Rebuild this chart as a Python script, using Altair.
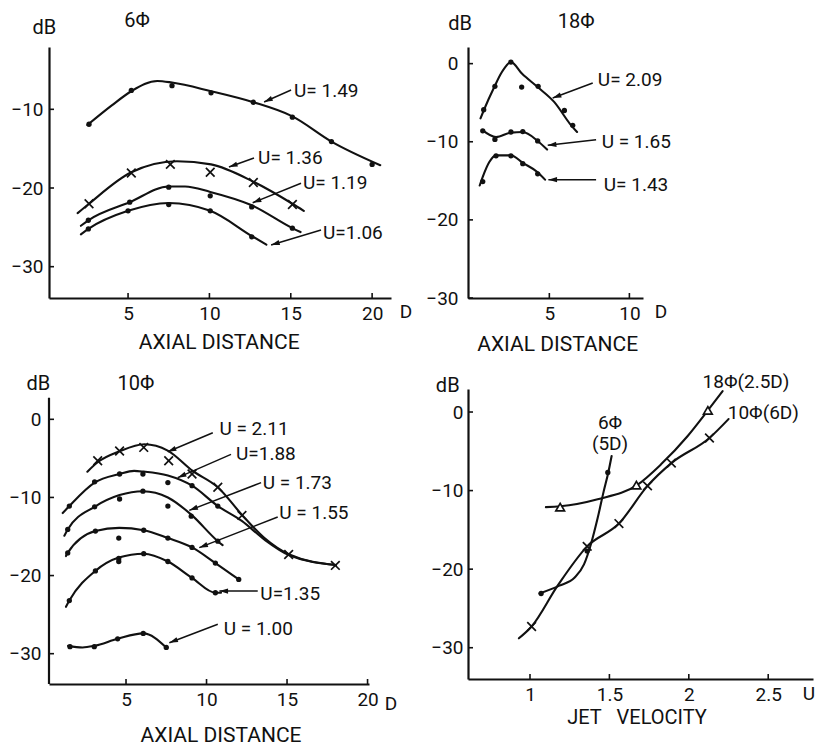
import math
import altair as alt
import pandas as pd

FONT = "Roboto"
INK = "#111111"

# ---------------- Panel A : 6Φ (dB vs axial distance) ----------------
a149_line_x = [2.5, 4.0, 5.2, 6.8, 7.7, 10.1, 12.7, 15.1, 17.5, 20.5]
a149_line_y = [-12.0, -9.5, -7.7, -6.4, -6.6, -7.7, -9.1, -10.9, -14.1, -17.1]
a149_pt_x = [2.6, 5.2, 7.7, 10.1, 12.7, 15.1, 17.5, 20.0]
a149_pt_y = [-11.9, -7.6, -7.0, -7.9, -9.1, -11.0, -14.1, -17.0]

a136_line_x = [1.9, 2.6, 5.2, 8.0, 10.1, 12.7, 15.1, 15.8]
a136_line_y = [-23.2, -22.0, -18.0, -16.6, -17.0, -19.2, -22.0, -22.9]
a136_pt_x = [2.6, 5.2, 7.6, 10.05, 12.7, 15.1]
a136_pt_y = [-22.0, -18.1, -17.0, -18.0, -19.3, -22.1]

a119_line_x = [2.1, 2.56, 5.1, 7.5, 8.5, 10.05, 12.6, 15.1, 15.6]
a119_line_y = [-24.8, -24.1, -21.8, -19.8, -19.8, -20.5, -22.2, -25.1, -25.6]
a119_pt_x = [2.56, 5.1, 7.5, 10.05, 12.6, 15.1]
a119_pt_y = [-24.1, -21.8, -19.9, -21.0, -22.4, -25.1]

a106_line_x = [2.1, 2.56, 5.0, 7.5, 10.05, 12.6, 13.5]
a106_line_y = [-25.9, -25.2, -22.9, -21.9, -22.9, -26.1, -27.2]
a106_pt_x = [2.56, 5.0, 7.5, 10.05, 12.6]
a106_pt_y = [-25.2, -22.9, -22.1, -22.9, -26.2]

a_label_text = ["U= 1.49", "U= 1.36", "U= 1.19", "U=1.06"]
a_label_x = [15.2, 12.99, 15.75, 16.98]
a_label_y = [-7.67, -16.19, -19.36, -25.72]
a_arrow_x1 = [15.02, 12.74, 15.63, 16.86]
a_arrow_y1 = [-7.55, -16.19, -19.4, -25.34]
a_arrow_x2 = [13.36, 11.2, 12.66, 13.79]
a_arrow_y2 = [-9.07, -17.33, -21.87, -27.25]
a_note_text = ["dB", "6Φ", "D", "AXIAL DISTANCE"]
a_note_x = [-0.15, 5.55, 22.08, 10.6]
a_note_y = [0.37, 1.2, -35.74, -39.7]
a_note_fs = [20, 20, 19, 21]
a_xticks = [5, 10, 15, 20]
a_yticks = [-10, -20, -30]

# ---------------- Panel B : 18Φ ----------------
b209_line_x = [0.7, 0.9, 1.56, 2.0, 2.6, 3.3, 4.27, 5.3, 6.36, 6.73]
b209_line_y = [-7.0, -6.0, -3.0, -1.2, 0.2, -1.3, -3.0, -4.9, -7.9, -8.75]
b209_pt_x = [0.9, 1.6, 2.6, 3.27, 4.3, 5.94, 6.46]
b209_pt_y = [-5.9, -2.9, 0.2, -3.0, -2.9, -6.0, -7.9]

b165_line_x = [0.84, 1.67, 2.6, 3.34, 4.27, 4.86]
b165_line_y = [-8.54, -9.4, -8.83, -8.75, -9.9, -11.0]
b165_pt_x = [0.84, 1.6, 2.6, 3.34, 4.27]
b165_pt_y = [-8.6, -9.7, -8.75, -8.7, -9.9]

b143_line_x = [0.65, 0.84, 1.25, 1.67, 2.6, 3.34, 4.27, 4.73]
b143_line_y = [-15.6, -14.5, -12.6, -11.74, -11.74, -12.7, -13.9, -14.85]
b143_pt_x = [0.84, 1.67, 2.6, 3.34, 4.27]
b143_pt_y = [-15.1, -11.8, -11.8, -12.8, -14.1]

b_label_text = ["U= 2.09", "U = 1.65", "U= 1.43"]
b_label_x = [8.03, 8.27, 8.4]
b_label_y = [-2.14, -10.03, -15.58]
b_arrow_x1 = [7.71, 7.92, 7.92]
b_arrow_y1 = [-2.48, -9.73, -14.85]
b_arrow_x2 = [5.21, 4.9, 4.94]
b_arrow_y2 = [-4.4, -10.46, -14.85]
b_note_text = ["dB", "18Φ", "D", "AXIAL DISTANCE"]
b_note_x = [-0.58, 6.67, 11.98, 5.52]
b_note_y = [5.03, 5.35, -31.83, -36.05]
b_note_fs = [20, 20, 19, 21]
b_xticks = [5, 10]
b_yticks = [0, -10, -20, -30]

# ---------------- Panel C : 10Φ ----------------
c211_line_x = [2.6, 3.24, 4.6, 6.14, 7.59, 9.14, 10.7, 12.19, 13.6, 15.14, 18.04]
c211_line_y = [-6.7, -5.5, -4.1, -3.2, -4.0, -6.6, -8.7, -12.2, -15.2, -17.3, -18.65]
c211_pt_x = [3.24, 4.6, 6.1, 7.65, 9.1, 10.7, 12.2, 15.1, 18.0]
c211_pt_y = [-5.3, -4.06, -3.6, -5.3, -7.0, -8.7, -12.3, -17.3, -18.7]

c188_line_x = [1.07, 1.48, 3.05, 4.6, 5.5, 6.1, 7.6, 9.1, 10.7, 12.19, 13.6, 15.14, 18.04]
c188_line_y = [-12.0, -11.1, -8.1, -7.0, -6.6, -6.7, -7.2, -8.5, -11.1, -13.0, -15.4, -17.4, -18.65]
c188_pt_x = [1.48, 3.05, 4.6, 6.05, 7.6, 9.1, 10.7]
c188_pt_y = [-11.1, -8.0, -7.0, -7.0, -8.1, -8.5, -11.1]

c173_line_x = [1.17, 1.38, 3.05, 4.6, 6.05, 7.6, 9.05, 10.7, 11.0]
c173_line_y = [-14.9, -14.1, -11.2, -9.7, -9.2, -10.0, -12.2, -15.6, -16.1]
c173_pt_x = [1.38, 3.05, 4.6, 6.05, 7.6, 9.05, 10.7]
c173_pt_y = [-14.1, -11.2, -10.2, -9.2, -11.1, -12.4, -15.6]

c155_line_x = [1.27, 1.38, 3.1, 4.58, 6.1, 7.6, 9.1, 10.55, 12.0]
c155_line_y = [-17.5, -17.1, -14.3, -13.9, -14.2, -15.2, -16.4, -18.4, -20.5]
c155_pt_x = [1.38, 3.1, 4.55, 6.1, 7.6, 9.1, 10.55, 12.0]
c155_pt_y = [-17.1, -14.3, -15.2, -14.2, -15.2, -16.4, -18.4, -20.5]

c135_line_x = [1.27, 1.48, 3.1, 4.55, 6.1, 7.6, 9.1, 10.55, 10.9]
c135_line_y = [-24.0, -23.2, -19.4, -17.7, -17.2, -18.2, -20.3, -22.2, -22.2]
c135_pt_x = [1.48, 3.1, 4.55, 4.55, 6.1, 7.6, 9.1, 10.55]
c135_pt_y = [-23.2, -19.4, -17.8, -18.2, -17.2, -18.2, -20.3, -22.2]

c100_line_x = [1.4, 2.3, 3.03, 4.48, 6.07, 7.5]
c100_line_y = [-29.0, -29.2, -29.0, -28.1, -27.4, -29.2]
c100_pt_x = [1.52, 3.03, 4.48, 6.07, 7.5]
c100_pt_y = [-29.1, -29.1, -28.1, -27.4, -29.2]

c_label_text = ["U = 2.11", "U=1.88", "U = 1.73", "U = 1.55", "U=1.35", "U = 1.00"]
c_label_x = [10.8, 11.83, 13.49, 14.52, 13.34, 11.07]
c_label_y = [-1.28, -4.48, -8.11, -11.95, -22.32, -26.88]
c_arrow_x1 = [10.39, 11.52, 13.39, 14.42, 13.18, 10.7]
c_arrow_y1 = [-1.72, -4.48, -8.11, -12.5, -21.98, -26.24]
c_arrow_x2 = [7.59, 8.21, 8.93, 9.55, 10.8, 7.69]
c_arrow_y2 = [-4.15, -7.47, -11.65, -16.43, -21.98, -28.6]
c_note_text = ["dB", "10Φ", "D", "AXIAL DISTANCE"]
c_note_x = [-0.45, 5.62, 21.46, 10.9]
c_note_y = [4.48, 4.48, -36.44, -40.52]
c_note_fs = [20, 20, 19, 21]
c_xticks = [5, 10, 15, 20]
c_yticks = [0, -10, -20, -30]

# ---------------- Panel D : dB vs jet velocity ----------------
d6_line_x = [1.06, 1.185, 1.28, 1.34, 1.384, 1.426, 1.464, 1.493, 1.514]
d6_line_y = [-23.1, -22.1, -21.1, -19.4, -16.8, -13.5, -10.1, -7.7, -5.6]
d6_pt_x = [1.07, 1.36, 1.49]
d6_pt_y = [-23.1, -17.7, -7.7]

d18_line_x = [1.1, 1.19, 1.426, 1.674, 1.825, 1.993, 2.12, 2.213]
d18_line_y = [-12.1, -12.0, -11.1, -9.3, -6.66, -3.05, 0.2, 2.67]
d18_pt_x = [1.19, 1.67, 2.12]
d18_pt_y = [-12.1, -9.3, 0.2]

d10_line_x = [0.93, 1.01, 1.174, 1.36, 1.56, 1.74, 1.89, 2.13, 2.25]
d10_line_y = [-28.8, -27.3, -22.1, -17.1, -14.2, -9.4, -6.5, -3.3, -0.9]
d10_pt_x = [1.01, 1.36, 1.56, 1.74, 1.89, 2.13]
d10_pt_y = [-27.3, -17.1, -14.2, -9.4, -6.5, -3.3]

d_label_text = ["10Φ(6D)"]
d_label_x = [2.245]
d_label_y = [-0.09]
d_note_text = ["dB", "6Φ", "(5D)", "18Φ(2.5D)", "U", "JET\u00a0\u00a0\u00a0VELOCITY"]
d_note_x = [0.482, 1.504, 1.504, 2.36, 2.757, 1.674]
d_note_y = [3.31, -1.36, -4.03, 3.82, -35.9, -39.0]
d_note_fs = [20, 19, 19, 19, 19, 20]
d_xticks = [1, 1.5, 2, 2.5]
d_yticks = [0, -10, -20, -30]

X_MARK = "M-1,-1L1,1M-1,1L1,-1"
ARROW = "M0,0L0.3,1L-0.3,1Z"


def lines_df(series):
    rows = []
    for name, xs, ys in series:
        for i, (x, y) in enumerate(zip(xs, ys)):
            rows.append({"x": x, "y": y, "s": name, "o": i})
    return pd.DataFrame(rows)


def pts_df(series):
    rows = []
    for xs, ys in series:
        for x, y in zip(xs, ys):
            rows.append({"x": x, "y": y})
    return pd.DataFrame(rows)


def panel(xdom, ydom, width, height, xticks, yticks, lines, dots, xmarks, tris,
          labels, notes, arrows, xlp, ylp, xfmt="d", ydomain=True, yrule=None):
    sx = width / (xdom[1] - xdom[0])
    sy = height / (ydom[1] - ydom[0])
    xs = alt.Scale(domain=xdom, nice=False, zero=False)
    ys = alt.Scale(domain=ydom, nice=False, zero=False)
    common = dict(ticks=False, grid=False, domainColor=INK, domainWidth=2.2,
                  labelFont=FONT, labelFontSize=19, labelColor=INK, title=None,
                  labelOverlap=False, labelFlush=False)
    xax = alt.Axis(values=xticks, labelPadding=xlp, format=xfmt, **common)
    yax = alt.Axis(values=yticks, labelPadding=ylp, format="d", domain=ydomain, **common)
    X = lambda: alt.X("x:Q", scale=xs, axis=xax)
    Y = lambda: alt.Y("y:Q", scale=ys, axis=yax)

    layers = []
    layers.append(alt.Chart(lines_df(lines)).mark_line(
        interpolate="monotone", color=INK, strokeWidth=2.1, strokeCap="round"
    ).encode(x=X(), y=Y(), detail="s:N", order="o:Q"))
    if dots:
        layers.append(alt.Chart(pts_df(dots)).mark_point(
            shape="circle", filled=True, size=28, color=INK, opacity=1
        ).encode(x=X(), y=Y()))
    if xmarks:
        layers.append(alt.Chart(pts_df(xmarks)).mark_point(
            shape=X_MARK, filled=False, size=75, strokeWidth=1.7, color=INK, opacity=1
        ).encode(x=X(), y=Y()))
    if tris:
        layers.append(alt.Chart(pts_df(tris)).mark_point(
            shape="triangle-up", filled=False, size=75, strokeWidth=1.7, color=INK,
            fill="white", fillOpacity=1, opacity=1
        ).encode(x=X(), y=Y()))
    # inward tick marks
    layers.append(alt.Chart(pd.DataFrame({"x": xticks, "y": [ydom[0]] * len(xticks)})).mark_tick(
        orient="vertical", size=5, thickness=1.6, yOffset=-2.5, color=INK, opacity=1
    ).encode(x=X(), y=Y()))
    layers.append(alt.Chart(pd.DataFrame({"x": [xdom[0]] * len(yticks), "y": yticks})).mark_tick(
        orient="horizontal", size=5, thickness=1.6, xOffset=2.5, color=INK, opacity=1
    ).encode(x=X(), y=Y()))
    if yrule is not None:
        layers.append(alt.Chart(pd.DataFrame({"x": [xdom[0]], "y": [yrule[0]], "y2": [yrule[1]]})).mark_rule(
            color=INK, strokeWidth=2.2
        ).encode(x=X(), y=Y(), y2="y2:Q"))
    if arrows:
        x1, y1, x2, y2 = arrows
        ang = []
        for a, b, c, d in zip(x1, y1, x2, y2):
            dxs = (c - a) * sx
            dys = -(d - b) * sy
            ang.append(math.degrees(math.atan2(dxs, -dys)) % 360)
        adf = pd.DataFrame({"x": x1, "y": y1, "x2": x2, "y2": y2, "a": ang})
        layers.append(alt.Chart(adf).mark_rule(color=INK, strokeWidth=1.5).encode(
            x=X(), y=Y(), x2="x2:Q", y2="y2:Q"))
        hdf = pd.DataFrame({"x": x2, "y": y2, "a": ang})
        layers.append(alt.Chart(hdf).mark_point(
            shape=ARROW, filled=True, size=300, color=INK, opacity=1
        ).encode(x=X(), y=Y(), angle=alt.Angle("a:Q", scale=None)))
    lt, lx, ly = labels
    layers.append(alt.Chart(pd.DataFrame({"x": lx, "y": ly, "t": lt})).mark_text(
        align="left", baseline="middle", font=FONT, fontSize=19, color=INK
    ).encode(x=X(), y=Y(), text="t:N"))
    nt, nx, ny, nf = notes
    layers.append(alt.Chart(pd.DataFrame({"x": nx, "y": ny, "t": nt, "fs": nf})).mark_text(
        align="center", baseline="middle", font=FONT, color=INK
    ).encode(x=X(), y=Y(), text="t:N", size=alt.Size("fs:Q", scale=None)))
    return alt.layer(*layers).properties(width=width, height=height)


pA = panel([0.141, 21.16], [-33.98, -2.08], 342, 251, a_xticks, a_yticks,
           [("1.49", a149_line_x, a149_line_y), ("1.36", a136_line_x, a136_line_y),
            ("1.19", a119_line_x, a119_line_y), ("1.06", a106_line_x, a106_line_y)],
           [(a149_pt_x, a149_pt_y), (a119_pt_x, a119_pt_y), (a106_pt_x, a106_pt_y)],
           [(a136_pt_x, a136_pt_y)], None,
           (a_label_text, a_label_x, a_label_y),
           (a_note_text, a_note_x, a_note_y, a_note_fs),
           (a_arrow_x1, a_arrow_y1, a_arrow_x2, a_arrow_y2), 6, 6)

pB = panel([-0.081, 10.85], [-30.0, 2.13], 175, 251, b_xticks, b_yticks,
           [("2.09", b209_line_x, b209_line_y), ("1.65", b165_line_x, b165_line_y),
            ("1.43", b143_line_x, b143_line_y)],
           [(b209_pt_x, b209_pt_y), (b165_pt_x, b165_pt_y), (b143_pt_x, b143_pt_y)],
           None, None,
           (b_label_text, b_label_x, b_label_y),
           (b_note_text, b_note_x, b_note_y, b_note_fs),
           (b_arrow_x1, b_arrow_y1, b_arrow_x2, b_arrow_y2), 6, 10)

pC = panel([0.217, 20.09], [-33.88, 3.88], 320, 295, c_xticks, c_yticks,
           [("2.11", c211_line_x, c211_line_y), ("1.88", c188_line_x, c188_line_y),
            ("1.73", c173_line_x, c173_line_y), ("1.55", c155_line_x, c155_line_y),
            ("1.35", c135_line_x, c135_line_y), ("1.00", c100_line_x, c100_line_y)],
           [(c188_pt_x, c188_pt_y), (c173_pt_x, c173_pt_y), (c155_pt_x, c155_pt_y),
            (c135_pt_x, c135_pt_y), (c100_pt_x, c100_pt_y)],
           [(c211_pt_x, c211_pt_y)], None,
           (c_label_text, c_label_x, c_label_y),
           (c_note_text, c_note_x, c_note_y, c_note_fs),
           (c_arrow_x1, c_arrow_y1, c_arrow_x2, c_arrow_y2), 6, 8,
           ydomain=False, yrule=(-33.88, 2.75))

pD = panel([0.6096, 2.782], [-33.98, 2.93], 345, 290, d_xticks, d_yticks,
           [("6", d6_line_x, d6_line_y), ("18", d18_line_x, d18_line_y),
            ("10", d10_line_x, d10_line_y)],
           [(d6_pt_x, d6_pt_y)],
           [(d10_pt_x, d10_pt_y)],
           [(d18_pt_x, d18_pt_y)],
           (d_label_text, d_label_x, d_label_y),
           (d_note_text, d_note_x, d_note_y, d_note_fs),
           None, 6, 5, xfmt="~g")

chart = alt.concat(pA, pB, pC, pD, columns=2, spacing={"row": 91, "column": 77},
                   bounds="flush", align="each").properties(
    padding={"left": 0, "top": 3, "right": 0, "bottom": 0},
    background="white",
).configure_view(stroke=None)

chart.save("out.html", embed_options={"renderer": "svg", "actions": False})
